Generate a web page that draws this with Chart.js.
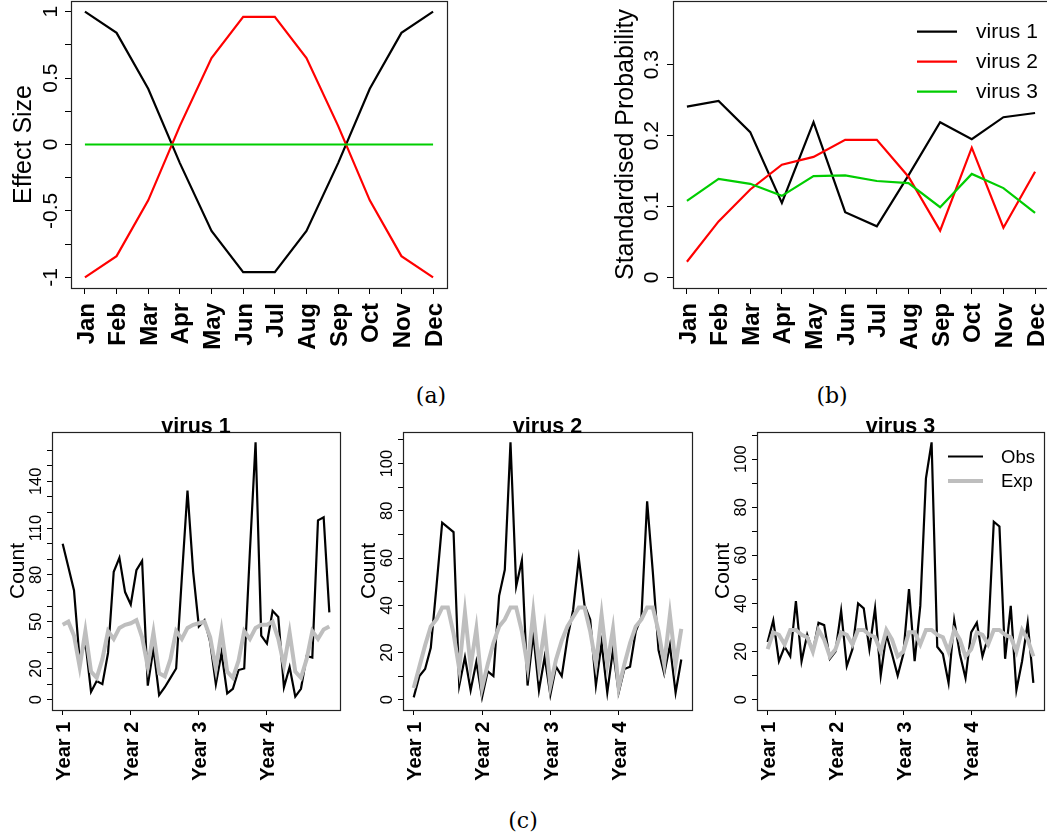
<!DOCTYPE html>
<html>
<head>
<meta charset="utf-8">
<script src="https://cdn.jsdelivr.net/npm/chart.js@4.4.0/dist/chart.umd.min.js"></script>
<style>
html, body { margin: 0; padding: 0; background: #fff; overflow: hidden; }
#fig { position: relative; width: 1047px; height: 837px; overflow: hidden; background: #fff; }
#fig canvas { position: absolute; }
.cap { position: absolute; font-family: "DejaVu Serif", serif; font-size: 22px; color: #000; transform: translate(-50%, -50%); }
</style>
</head>
<body>
<div id="fig">
  <div class="cap" style="left:431px;top:395px">(a)</div>
  <div class="cap" style="left:832px;top:395px">(b)</div>
  <div class="cap" style="left:523px;top:820px">(c)</div>
</div>
<script>
// panel (a) / (b): monthly values
const months = ['Jan', 'Feb', 'Mar', 'Apr', 'May', 'Jun', 'Jul', 'Aug', 'Sep', 'Oct', 'Nov', 'Dec'];
const monthTicks = [0, 1, 2, 3, 4, 5, 6, 7, 8, 9, 10, 11];

const effectV1 = [1, 0.84, 0.42, -0.14, -0.65, -0.96, -0.96, -0.65, -0.14, 0.42, 0.84, 1];
const effectV2 = [-1, -0.84, -0.42, 0.14, 0.65, 0.96, 0.96, 0.65, 0.14, -0.42, -0.84, -1];
const effectV3 = [0, 0, 0, 0, 0, 0, 0, 0, 0, 0, 0, 0];
const effectTicks = [-1, -0.75, -0.5, -0.25, 0, 0.25, 0.5, 0.75, 1];
const effectTickLabels = [-1, -0.5, 0, 0.5, 1];

const probV1 = [0.241, 0.249, 0.205, 0.105, 0.219, 0.092, 0.072, 0.144, 0.219, 0.195, 0.226, 0.232];
const probV2 = [0.022, 0.079, 0.124, 0.159, 0.170, 0.194, 0.194, 0.142, 0.066, 0.183, 0.070, 0.149];
const probV3 = [0.108, 0.139, 0.132, 0.115, 0.143, 0.144, 0.136, 0.133, 0.099, 0.146, 0.126, 0.091];
const probTicks = [0, 0.1, 0.2, 0.3];

// panel (c): 48 monthly counts per virus
const yearLabels = ['Year 1', 'Year 2', 'Year 3', 'Year 4'];
const yearTicks = [0, 12, 24, 36];

const obsV1 = [100, 85, 70, 25, 37, 5, 12, 10, 30, 82, 91, 69,
               61, 83, 89, 9, 33, 3, 8, 14, 20, 78, 134, 82,
               47, 51, 37, 10, 30, 4, 7, 19, 20, 95, 165, 41,
               36, 57, 53, 8, 21, 2, 7, 28, 27, 115, 117, 56];
const expV1 = [48, 50, 41, 21, 44, 18, 14, 26, 44, 39, 46, 48,
               49, 51, 40, 21, 43, 17, 15, 26, 44, 39, 46, 48,
               49, 50, 40, 20, 44, 18, 14, 25, 44, 39, 46, 48,
               48, 50, 39, 22, 43, 18, 14, 26, 44, 39, 45, 47];

const obsV2 = [1, 10, 13, 22, 48, 75, 73, 71, 6, 18, 4, 16,
               1, 12, 10, 44, 55, 109, 48, 59, 6, 28, 4, 18,
               2, 14, 10, 26, 38, 60, 40, 34, 6, 24, 3, 21,
               3, 13, 14, 29, 35, 84, 54, 21, 11, 23, 3, 17];
const expV2 = [5, 14, 23, 31, 34, 39, 39, 28, 13, 37, 14, 30,
               5, 15, 24, 31, 34, 39, 39, 29, 14, 37, 14, 30,
               6, 17, 25, 31, 35, 39, 39, 29, 15, 36, 15, 30,
               5, 15, 24, 31, 34, 39, 39, 29, 15, 36, 15, 30];

const obsV3 = [24, 33, 16, 22, 18, 41, 16, 27, 20, 32, 31, 17,
               20, 37, 14, 21, 40, 38, 21, 38, 10, 27, 19, 10,
               19, 46, 16, 39, 92, 107, 22, 19, 7, 33, 19, 9,
               28, 32, 18, 26, 74, 72, 17, 39, 4, 16, 32, 7];
const expV3 = [21, 28, 27, 23, 29, 29, 27, 26, 20, 29, 25, 18,
               21, 28, 27, 23, 29, 29, 27, 26, 20, 29, 25, 18,
               20, 28, 28, 23, 29, 29, 27, 26, 20, 29, 25, 18,
               21, 28, 27, 23, 29, 29, 27, 26, 20, 29, 25, 18];

const countTicks1 = [0, 10, 20, 30, 40, 50, 60, 70, 80, 90, 100, 110, 120, 130, 140, 150, 160];
const countLabels1 = [0, 20, 50, 80, 110, 140];
const countTicks23 = [0, 10, 20, 30, 40, 50, 60, 70, 80, 90, 100, 110];
const countLabels23 = [0, 20, 40, 60, 80, 100];

const SANS = '"Liberation Sans", Arial, sans-serif';
const GREEN = '#00cd00';
const GRAY = '#bebebe';

// R-style frame: box, rotated tick labels, axis title, main title, legend
const rFrame = {
    id: 'rFrame',
    afterDraw(chart, args, o) {
        const ctx = chart.ctx, ca = chart.chartArea;
        const xs = chart.scales.x, ys = chart.scales.y;
        ctx.save();
        ctx.strokeStyle = '#222';
        ctx.lineWidth = 1.2;
        ctx.strokeRect(Math.round(ca.left) + 0.5, Math.round(ca.top) + 0.5,
            Math.round(ca.right - ca.left), Math.round(ca.bottom - ca.top));
        ctx.fillStyle = '#000';

        ctx.font = o.yFont;
        ctx.textAlign = 'center';
        ctx.textBaseline = 'alphabetic';
        o.yLabels.forEach(v => {
            ctx.save();
            ctx.translate(ca.left - o.yGap, ys.getPixelForValue(v));
            ctx.rotate(-Math.PI / 2);
            ctx.fillText(String(v), 0, 0);
            ctx.restore();
        });

        ctx.font = o.titleFont;
        ctx.save();
        ctx.translate(ca.left - o.titleGap, (ca.top + ca.bottom) / 2);
        ctx.rotate(-Math.PI / 2);
        ctx.fillText(o.yTitle, 0, 0);
        ctx.restore();

        ctx.font = o.xFont;
        ctx.textAlign = 'right';
        xs.ticks.forEach((t, i) => {
            ctx.save();
            ctx.translate(xs.getPixelForValue(t.value) + o.xCap, ca.bottom + o.xGap);
            ctx.rotate(-Math.PI / 2);
            ctx.fillText(o.xLabels[i], 0, 0);
            ctx.restore();
        });

        if (o.main) {
            ctx.font = o.mainFont;
            ctx.textAlign = 'center';
            ctx.fillText(o.main, (ca.left + ca.right) / 2, ca.top + 0.5);
        }

        if (o.legend) {
            const L = o.legend;
            ctx.font = L.font;
            ctx.textAlign = 'left';
            ctx.textBaseline = 'middle';
            chart.data.datasets.forEach((ds, i) => {
                const y = L.y + i * L.dy;
                ctx.strokeStyle = ds.borderColor;
                ctx.lineWidth = ds.borderWidth;
                ctx.beginPath();
                ctx.moveTo(L.x1, y);
                ctx.lineTo(L.x2, y);
                ctx.stroke();
                ctx.fillText(ds.label, L.tx, y + 1);
            });
        }
        ctx.restore();
    }
};

function panel(p) {
    const cv = document.createElement('canvas');
    cv.width = p.w;
    cv.height = p.h;
    cv.style.left = p.left + 'px';
    cv.style.top = p.top + 'px';
    document.getElementById('fig').appendChild(cv);

    const grid = {drawOnChartArea: false, drawTicks: true, tickLength: p.tick, color: '#000', lineWidth: 1};
    return new Chart(cv, {
        type: 'line',
        data: {
            datasets: p.series.map(s => ({
                label: s.label,
                data: s.values.map((v, i) => ({x: i, y: v})),
                borderColor: s.color,
                borderWidth: s.width,
                order: s.order,
                pointRadius: 0,
                tension: 0,
                fill: false
            }))
        },
        options: {
            responsive: false,
            animation: false,
            devicePixelRatio: 1,
            layout: {padding: {top: p.area.t - p.top, right: p.left + p.w - p.area.r, left: 0, bottom: 0}},
            plugins: {
                legend: {display: false},
                tooltip: {enabled: false},
                rFrame: p.frame
            },
            scales: {
                x: {
                    type: 'linear', min: p.xMin, max: p.xMax,
                    afterBuildTicks: s => { s.ticks = p.xTicks.map(v => ({value: v})); },
                    afterFit: s => { s.height = p.top + p.h - p.area.b; },
                    ticks: {display: false},
                    grid: grid,
                    border: {display: false}
                },
                y: {
                    type: 'linear', min: p.yMin, max: p.yMax,
                    afterBuildTicks: s => { s.ticks = p.yTicks.map(v => ({value: v})); },
                    afterFit: s => { s.width = p.area.l - p.left; },
                    ticks: {display: false},
                    grid: grid,
                    border: {display: false}
                }
            }
        },
        plugins: [rFrame]
    });
}

// (a) effect size
panel({
    left: 0, top: 0, w: 450, h: 375,
    area: {l: 71, t: 1, r: 447, b: 288},
    xMin: -0.44, xMax: 11.44, xTicks: monthTicks,
    yMin: -1.08, yMax: 1.08, yTicks: effectTicks, tick: 6,
    series: [
        {label: 'virus 1', values: effectV1, color: '#000', width: 2.2, order: 2},
        {label: 'virus 2', values: effectV2, color: '#ff0000', width: 2.2, order: 1},
        {label: 'virus 3', values: effectV3, color: GREEN, width: 2.2, order: 0}
    ],
    frame: {
        yLabels: effectTickLabels, yFont: '21px ' + SANS, yGap: 14,
        yTitle: 'Effect Size', titleFont: '25px ' + SANS, titleGap: 40.5,
        xLabels: months, xFont: 'bold 24px ' + SANS, xGap: 15, xCap: 8.6
    }
});

// (b) standardised probability
panel({
    left: 600, top: 0, w: 452, h: 375,
    area: {l: 673, t: 1, r: 1049, b: 288},
    xMin: -0.44, xMax: 11.44, xTicks: monthTicks,
    yMin: -0.015, yMax: 0.39, yTicks: probTicks, tick: 6,
    series: [
        {label: 'virus 1', values: probV1, color: '#000', width: 2.2, order: 2},
        {label: 'virus 2', values: probV2, color: '#ff0000', width: 2.2, order: 1},
        {label: 'virus 3', values: probV3, color: GREEN, width: 2.2, order: 0}
    ],
    frame: {
        yLabels: probTicks, yFont: '21px ' + SANS, yGap: 15.5,
        yTitle: 'Standardised Probability', titleFont: '25px ' + SANS, titleGap: 40.3,
        xLabels: months, xFont: 'bold 24px ' + SANS, xGap: 15, xCap: 8.6,
        legend: {x1: 317, x2: 357, tx: 376, y: 31.7, dy: 30, font: '21px ' + SANS}
    }
});

// (c) observed vs expected counts
const countPanels = [
    {left: 0, w: 345, area: {l: 52, t: 432, r: 340, b: 710}, yMin: -6.6, yMax: 171.6,
     yTicks: countTicks1, yLabels: countLabels1, obs: obsV1, exp: expV1, main: 'virus 1'},
    {left: 350, w: 345, area: {l: 403, t: 432, r: 692, b: 710}, yMin: -4.36, yMax: 113.36,
     yTicks: countTicks23, yLabels: countLabels23, obs: obsV2, exp: expV2, main: 'virus 2'},
    {left: 697, w: 350, area: {l: 757, t: 432, r: 1044, b: 710}, yMin: -4.28, yMax: 111.28,
     yTicks: countTicks23, yLabels: countLabels23, obs: obsV3, exp: expV3, main: 'virus 3',
     legend: {x1: 251, x2: 286, tx: 304, y: 51.5, dy: 24.5, font: '18.5px ' + SANS}}
];

countPanels.forEach(c => {
    panel({
        left: c.left, top: 405, w: c.w, h: 390,
        area: c.area,
        xMin: -1.88, xMax: 48.88, xTicks: yearTicks,
        yMin: c.yMin, yMax: c.yMax, yTicks: c.yTicks, tick: 5,
        series: [
            {label: 'Obs', values: c.obs, color: '#000', width: 2.2, order: 1},
            {label: 'Exp', values: c.exp, color: GRAY, width: 4, order: 0}
        ],
        frame: {
            yLabels: c.yLabels, yFont: '16.5px ' + SANS, yGap: 11.5,
            yTitle: 'Count', titleFont: '21px ' + SANS, titleGap: 28,
            xLabels: yearLabels, xFont: 'bold 20px ' + SANS, xGap: 11.7, xCap: 7.2,
            main: c.main, mainFont: 'bold 21.5px ' + SANS,
            legend: c.legend
        }
    });
});
</script>
</body>
</html>
